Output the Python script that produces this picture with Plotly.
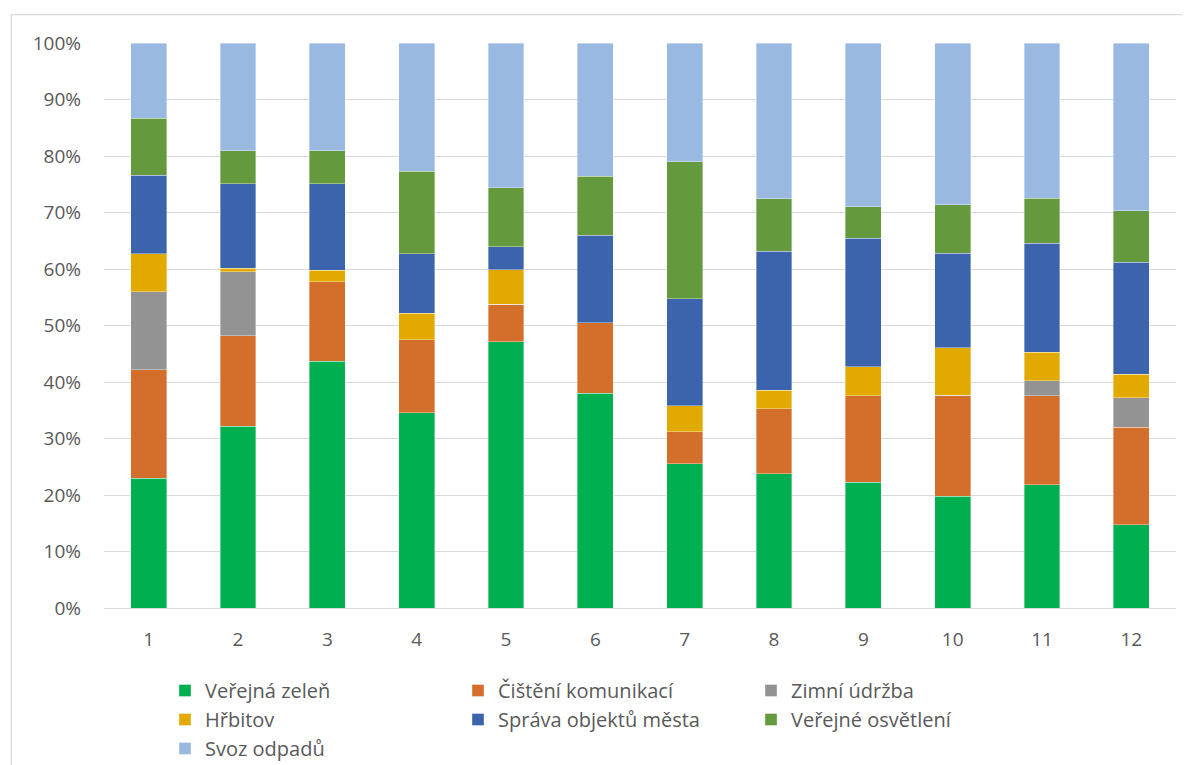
import plotly.graph_objects as go

months = [1, 2, 3, 4, 5, 6, 7, 8, 9, 10, 11, 12]

verejna_zelen = [23.0, 32.2, 43.7, 34.6, 47.1, 38.0, 25.5, 23.8, 22.3, 19.8, 21.8, 14.7]
cisteni_komunikaci = [19.2, 16.0, 14.0, 12.9, 6.7, 12.5, 5.7, 11.5, 15.3, 17.9, 15.8, 17.3]
zimni_udrzba = [13.8, 11.3, 0.0, 0.0, 0.0, 0.0, 0.0, 0.0, 0.0, 0.0, 2.6, 5.2]
hrbitov = [6.7, 0.6, 2.1, 4.7, 6.1, 0.0, 4.6, 3.2, 5.1, 8.4, 5.1, 4.2]
sprava_objektu = [13.9, 15.0, 15.3, 10.5, 4.0, 15.5, 18.9, 24.6, 22.7, 16.7, 19.3, 19.8]
verejne_osvetleni = [10.1, 5.8, 5.8, 14.6, 10.5, 10.4, 24.3, 9.3, 5.6, 8.6, 7.9, 9.1]
svoz_odpadu = [13.3, 19.1, 19.1, 22.7, 25.6, 23.6, 21.0, 27.6, 29.0, 28.6, 27.5, 29.7]

series_names = ["Veřejná zeleň", "Čištění komunikací", "Zimní údržba", "Hřbitov",
                "Správa objektů města", "Veřejné osvětlení", "Svoz odpadů"]
series_values = [verejna_zelen, cisteni_komunikaci, zimni_udrzba, hrbitov,
                 sprava_objektu, verejne_osvetleni, svoz_odpadu]
series_colors = ["#00B050", "#D36E2B", "#939393", "#E2AA00", "#3C64AD", "#64993D", "#99B9E0"]

y_ticks = [0, 10, 20, 30, 40, 50, 60, 70, 80, 90, 100]
y_tick_labels = [f"{v}%" for v in y_ticks]

FONT = "Open Sans"
TXT = "#595959"

fig = go.Figure()
for name, vals, col in zip(series_names, series_values, series_colors):
    fig.add_trace(go.Bar(
        x=months, y=vals, name=name,
        marker=dict(color=col, line=dict(color="rgba(255,255,255,0.6)", width=0.6)),
    ))

# page has an 8px body margin; plot area in page pixels: x 104..1176, y 43..608
OFF = 8
W, H = 1190 - OFF, 765 - OFF
ml, mt = 104 - OFF, 43 - OFF
pw, ph = 1072, 565
mr = W - ml - pw
mb = H - mt - ph

def px_x(x):
    return (x - 104) / pw

def px_y(y):
    return (608 - y) / ph

fig.update_layout(
    width=W, height=H,
    barmode="stack", barnorm="percent", bargap=0.6,
    margin=dict(l=ml, r=mr, t=mt, b=mb, autoexpand=False),
    plot_bgcolor="white", paper_bgcolor="white",
    font=dict(family=FONT, size=19, color=TXT),
    xaxis=dict(
        range=[0.5, 12.5], tickvals=months, ticktext=[str(m) for m in months],
        showgrid=False, zeroline=False, showline=True, linecolor="#D9D9D9", linewidth=1.3,
        ticks="", ticklabelstandoff=14, tickfont=dict(family=FONT, size=19, color=TXT),
        fixedrange=True,
    ),
    yaxis=dict(
        range=[0, 100], tickvals=y_ticks, ticktext=y_tick_labels,
        showgrid=True, gridcolor="#D9D9D9", gridwidth=1.3, zeroline=False,
        ticks="", ticklabelstandoff=22, tickfont=dict(family=FONT, size=19, color=TXT),
        fixedrange=True,
    ),
    legend=dict(
        orientation="h", x=px_x(165), xanchor="left", y=px_y(671), yanchor="top",
        entrywidth=248, entrywidthmode="pixels", traceorder="normal",
        font=dict(family=FONT, size=20, color=TXT), itemwidth=30,
        bgcolor="rgba(0,0,0,0)",
    ),
    showlegend=True,
)

fig.add_shape(
    type="rect", xref="paper", yref="paper",
    x0=px_x(11.3), x1=px_x(1200), y0=px_y(780), y1=px_y(14.7),
    line=dict(color="#D9D9D9", width=1.3), fillcolor="rgba(0,0,0,0)", layer="below",
)

fig.write_html("out.html")
